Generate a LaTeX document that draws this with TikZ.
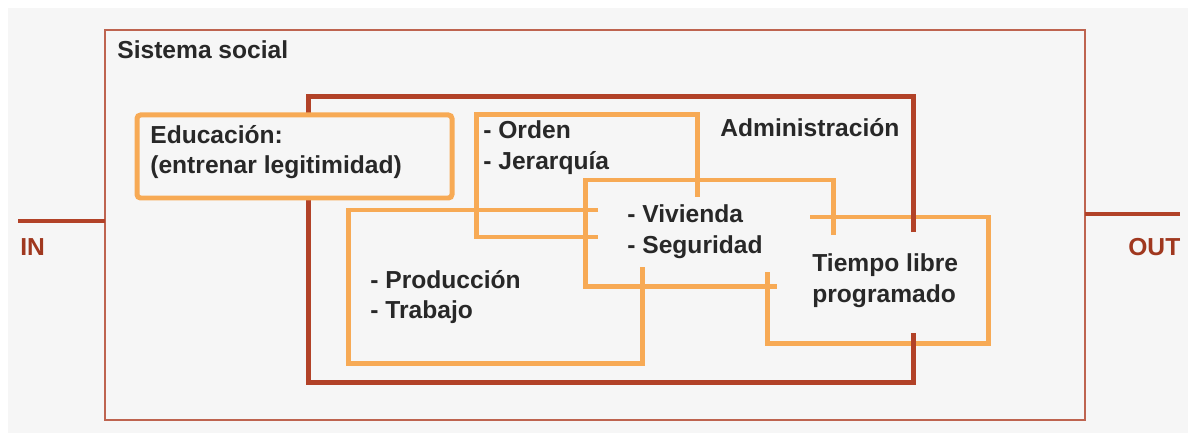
\documentclass[tikz,border=0pt]{standalone}
\usepackage{fontspec}
\setmainfont{Liberation Sans}
\definecolor{boxorange}{RGB}{247,170,85}
\definecolor{admred}{RGB}{178,66,40}
\definecolor{sysred}{RGB}{190,100,80}
\definecolor{inkgray}{RGB}{40,40,40}
\definecolor{iored}{RGB}{160,56,31}
\definecolor{paper}{RGB}{246,246,246}
\begin{document}
\begin{tikzpicture}[x=0.02cm,y=-0.02cm,
    orangeline/.style={line width=0.1cm,boxorange},
    admline/.style={line width=0.1cm,admred},
    sysline/.style={line width=0.04cm,sysred},
    boxtext/.style={anchor=west,inner sep=0pt,align=left,inkgray,
      font=\fontsize{14}{17.5}\selectfont\bfseries},
    iotext/.style={anchor=west,inner sep=0pt,iored,
      font=\fontsize{14}{17}\selectfont\bfseries}]
  % background
  \useasboundingbox (0,0) rectangle (1191,439);
  \fill[white] (0,0) rectangle (1191,439);
  \fill[paper] (8,8) rectangle (1188,433);

  % Sistema social box
  \draw[sysline] (105,30) rectangle (1085,420);
  \node[boxtext] (sistema) at (117,50) {Sistema social};

  % IN and OUT lines
  \coordinate (inend) at (18,221);
  \coordinate (sysleft) at (105,221);
  \coordinate (sysright) at (1085,214);
  \coordinate (outend) at (1180,214);
  \draw[admline] (inend) -- (sysleft);
  \draw[admline] (sysright) -- (outend);
  \node[iotext] (intag) at (20,247) {IN};
  \node[iotext] (outtag) at (1128,247) {OUT};

  % Administracion box (right side broken by Tiempo libre)
  \draw[admline] (913,232) -- (913,97) -- (308,97) -- (308,382) -- (913,382) -- (913,333);
  \node[boxtext] (admin) at (720,128) {Administración};

  % Educacion box, covers the Administracion line
  \draw[orangeline,fill=paper,rounded corners=2pt] (137,115) rectangle (452,198);
  \node[boxtext] (educa) at (150,152) {Educación:\\(entrenar legitimidad)};

  % Orden box
  \draw[orangeline] (697,197) -- (697,115) -- (476,115) -- (476,237) -- (598,237);
  \node[boxtext] (orden) at (483,148) {- Orden\\- Jerarquía};

  % Produccion box
  \draw[orangeline] (598,210) -- (348,210) -- (348,363) -- (642,363) -- (642,267);
  \node[boxtext] (produc) at (370,297) {- Producción\\- Trabajo};

  % Vivienda box
  \draw[orangeline] (833,235) -- (833,180) -- (585,180) -- (585,286) -- (777,286);
  \node[boxtext] (vivienda) at (627,232) {- Vivienda\\- Seguridad};

  % Tiempo libre box
  \draw[orangeline] (810,217) -- (988,217) -- (988,343) -- (767,343) -- (767,272);
  \node[boxtext] (tiempo) at (812,281) {Tiempo libre\\programado};

  % Administracion line crossing Tiempo libre
  \draw[admline] (913,205) -- (913,232);
  \draw[admline] (913,333) -- (913,355);
\end{tikzpicture}
\end{document}
